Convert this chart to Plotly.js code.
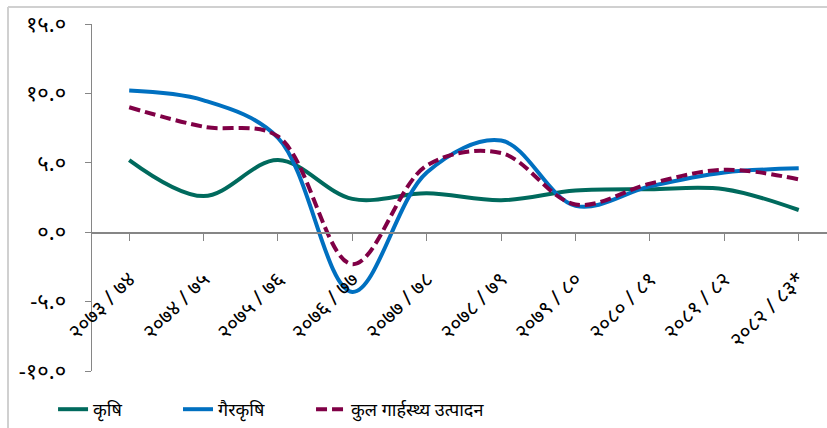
<!DOCTYPE html>
<html>
<head>
<meta charset="utf-8">
<script src="https://cdn.plot.ly/plotly-3.0.1.min.js"></script>
<style>html,body{margin:0;padding:0;background:#fff;}#chart{width:827px;height:428px;}</style>
</head>
<body>
<div id="chart"></div>
<script>
const categories = ["२०७३ / ७४","२०७४ / ७५","२०७५ / ७६","२०७६ / ७७","२०७७ / ७८","२०७८ / ७९","२०७९ / ८०","२०८० / ८१","२०८१ / ८२","२०८२ / ८३*"];
const agriculture = [5.2, 2.6, 5.2, 2.4, 2.8, 2.3, 3.0, 3.1, 3.1, 1.6];
const nonAgriculture = [10.2, 9.5, 6.8, -4.3, 4.3, 6.6, 1.9, 3.3, 4.3, 4.6];
const gdp = [9.0, 7.6, 6.9, -2.3, 4.8, 5.7, 2.0, 3.5, 4.5, 3.8];
const seriesNames = ["कृषि", "गैरकृषि", "कुल गार्हस्थ्य उत्पादन"];
const yTickVals = [-10, -5, 0, 5, 10, 15];
const yTickText = ["-१०.०", "-५.०", "०.०", "५.०", "१०.०", "१५.०"];

const FONT = "Noto Sans, Noto Sans Devanagari, Lohit Devanagari, sans-serif";
const idx = categories.map((c, i) => i);

const traces = [
  {x: idx, y: agriculture, name: seriesNames[0], mode: "lines", legend: "legend",
   line: {color: "#006a5d", width: 4, shape: "spline", smoothing: 1}},
  {x: idx, y: nonAgriculture, name: seriesNames[1], mode: "lines", legend: "legend2",
   line: {color: "#0070c0", width: 4, shape: "spline", smoothing: 1}},
  {x: idx, y: gdp, name: seriesNames[2], mode: "lines", legend: "legend3",
   line: {color: "#800046", width: 4, shape: "spline", smoothing: 1, dash: "11px,5px"}}
];

function legendAt(x) {
  return {orientation: "h", x: x, y: -0.112, xanchor: "left", yanchor: "middle",
          font: {size: 18, family: FONT, color: "#000"}, bgcolor: "rgba(0,0,0,0)"};
}

const layout = {
  width: 827, height: 428,
  margin: {l: 92, r: 0, t: 24, b: 57},
  paper_bgcolor: "#fff", plot_bgcolor: "#fff",
  font: {family: FONT, color: "#000", size: 16},
  showlegend: true,
  legend: legendAt(-0.053),
  legend2: legendAt(0.117),
  legend3: legendAt(0.298),
  xaxis: {
    range: [-0.5, 9.38], tickmode: "array", tickvals: idx, ticktext: categories,
    tickangle: -45, tickson: "boundaries", ticks: "outside", ticklen: 7, tickcolor: "#868686",
    showline: true, linecolor: "#868686", linewidth: 1.5, showgrid: false, zeroline: false,
    anchor: "free", position: 0.4, tickfont: {size: 21, family: FONT}, fixedrange: true,
    ticklabelstandoff: 18
  },
  yaxis: {
    range: [-10, 15], tickmode: "array", tickvals: yTickVals, ticktext: yTickText,
    ticks: "outside", ticklen: 6, tickcolor: "#868686", showline: true, linecolor: "#868686",
    linewidth: 1.5, showgrid: false, zeroline: false, tickfont: {size: 22, family: FONT},
    ticklabelstandoff: 14
  },
  shapes: [
    {type: "line", xref: "paper", yref: "paper", x0: -0.1143, x1: -0.1143, y0: -0.2, y1: 1.049,
     line: {color: "#d0d0d0", width: 2}},
    {type: "line", xref: "paper", yref: "paper", x0: -0.1143, x1: 1.05, y0: 1.049, y1: 1.049,
     line: {color: "#d0d0d0", width: 2}}
  ]
};

Plotly.newPlot("chart", traces, layout, {displayModeBar: false, staticPlot: true});
</script>
</body>
</html>
